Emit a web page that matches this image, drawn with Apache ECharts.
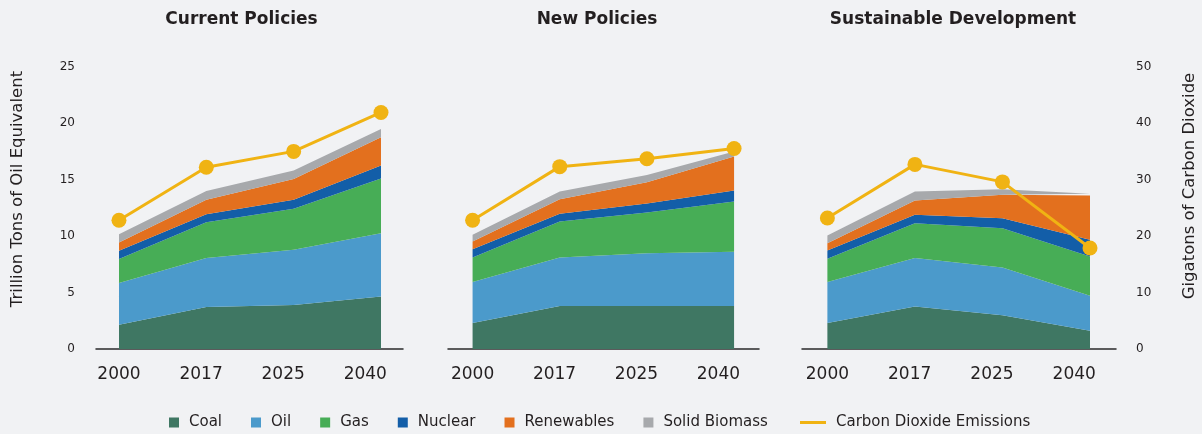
<!DOCTYPE html>
<html><head><meta charset="utf-8">
<script src="https://cdn.jsdelivr.net/npm/echarts@6/dist/echarts.min.js"></script>
<style>html,body{margin:0;padding:0;background:#f1f2f4}#c{width:1202px;height:434px}</style>
</head><body><div id="c"></div>
<script>
// ---- data ----
const years = ['2000', '2017', '2025', '2040'];
const scenarios = ['Current Policies', 'New Policies', 'Sustainable Development'];
const sources = ['Coal', 'Oil', 'Gas', 'Nuclear', 'Renewables', 'Solid Biomass'];
const co2Name = 'Carbon Dioxide Emissions';

// Current Policies (trillion tons of oil equivalent)
const coalCP = [2.15, 3.71, 3.89, 4.66];
const oilCP = [3.69, 4.34, 4.89, 5.60];
const gasCP = [2.12, 3.18, 3.63, 4.83];
const nuclearCP = [0.74, 0.71, 0.80, 1.15];
const renewCP = [0.73, 1.27, 1.85, 2.51];
const biomassCP = [0.74, 0.79, 0.74, 0.74];
const co2CP = [22.8, 32.2, 35.0, 41.9];

// New Policies
const coalNP = [2.30, 3.80, 3.80, 3.80];
const oilNP = [3.63, 4.31, 4.69, 4.81];
const gasNP = [2.18, 3.18, 3.60, 4.45];
const nuclearNP = [0.73, 0.68, 0.79, 0.97];
const renewNP = [0.68, 1.30, 1.89, 3.01];
const biomassNP = [0.59, 0.67, 0.65, 0.44];
const co2NP = [22.8, 32.3, 33.7, 35.5];

// Sustainable Development
const coalSD = [2.30, 3.77, 2.98, 1.62];
const oilSD = [3.63, 4.28, 4.24, 3.10];
const gasSD = [2.06, 3.09, 3.48, 3.48];
const nuclearSD = [0.74, 0.74, 0.89, 1.47];
const renewSD = [0.64, 1.27, 2.06, 3.92];
const biomassSD = [0.68, 0.79, 0.50, 0.15];
const co2SD = [23.2, 32.7, 29.6, 17.9];

const leftTicks = [0, 5, 10, 15, 20, 25];
const rightTicks = [0, 10, 20, 30, 40, 50];

// ---- presentation ----
const colors = ['#3f7763', '#4b9acb', '#47ad56', '#135ea8', '#e3701e', '#a7a9ac'];
const co2Color = '#f0b313';
const FONT = 'DejaVu Sans';
const TXT = '#231f20';

const energy = [
  [coalCP, oilCP, gasCP, nuclearCP, renewCP, biomassCP],
  [coalNP, oilNP, gasNP, nuclearNP, renewNP, biomassNP],
  [coalSD, oilSD, gasSD, nuclearSD, renewSD, biomassSD]
];
const co2 = [co2CP, co2NP, co2SD];

const layout = [
  { left: 96, width: 307, min: -0.263, max: 3.252, title: 241.5 },
  { left: 448, width: 311, min: -0.282, max: 3.286, title: 597 },
  { left: 802, width: 314, min: -0.29, max: 3.297, title: 953 }
];
const LABEL_STEP = 0.94;
const labelPos = years.map((_, i) => i * LABEL_STEP);

const grids = [], xAxes = [], yAxes = [], series = [], graphics = [];
layout.forEach((g, i) => {
  grids.push({ left: g.left, width: g.width, top: 66.7, bottom: 85, containLabel: false });
  xAxes.push({
    type: 'value', gridIndex: i, min: g.min, max: g.max,
    axisLine: { show: true, onZero: false, lineStyle: { color: '#2a2a2a', width: 1.5 } },
    axisTick: { show: false }, splitLine: { show: false },
    axisLabel: {
      customValues: labelPos, margin: 17, fontSize: 17, fontFamily: FONT, color: TXT,
      formatter: v => years[Math.round(v / LABEL_STEP)]
    }
  });
  yAxes.push({
    type: 'value', gridIndex: i, position: 'left', show: i === 0,
    min: leftTicks[0], max: leftTicks[leftTicks.length - 1], interval: leftTicks[1] - leftTicks[0],
    axisLine: { show: false }, axisTick: { show: false }, splitLine: { show: false },
    axisLabel: { margin: 21, fontSize: 12, fontFamily: FONT, color: TXT }
  });
  yAxes.push({
    type: 'value', gridIndex: i, position: 'right', show: i === 2,
    min: rightTicks[0], max: rightTicks[rightTicks.length - 1], interval: rightTicks[1] - rightTicks[0],
    axisLine: { show: false }, axisTick: { show: false }, splitLine: { show: false },
    axisLabel: { margin: 20, fontSize: 12, fontFamily: FONT, color: TXT }
  });
  sources.forEach((name, s) => {
    series.push({
      type: 'line', name, xAxisIndex: i, yAxisIndex: 2 * i, stack: 'energy' + i,
      symbol: 'none', color: colors[s],
      lineStyle: { width: 0 },
      areaStyle: { color: colors[s], opacity: 1 },
      // value first so that stacking happens on the y dimension
      encode: { x: 1, y: 0 },
      data: energy[i][s].map((v, k) => [v, k]),
      z: 2, silent: true
    });
  });
  series.push({
    type: 'line', name: co2Name, xAxisIndex: i, yAxisIndex: 2 * i + 1,
    symbol: 'circle', symbolSize: 15, color: co2Color,
    lineStyle: { width: 3, color: co2Color }, itemStyle: { color: co2Color },
    data: co2[i].map((v, k) => [k, v]),
    z: 5, silent: true
  });
  graphics.push({
    type: 'text', x: g.title, y: 19.5,
    style: { text: scenarios[i], font: 'bold 17px "' + FONT + '"', fill: TXT,
      textAlign: 'center', textVerticalAlign: 'middle', align: 'center', verticalAlign: 'middle' }
  });
});

graphics.push({
  type: 'text', x: 17.5, y: 189, rotation: Math.PI / 2,
  style: { text: 'Trillion Tons of Oil Equivalent', font: '16.5px "' + FONT + '"', fill: TXT,
    textAlign: 'center', textVerticalAlign: 'middle', align: 'center', verticalAlign: 'middle' }
});
graphics.push({
  type: 'text', x: 1190, y: 186, rotation: Math.PI / 2,
  style: { text: 'Gigatons of Carbon Dioxide', font: '16.5px "' + FONT + '"', fill: TXT,
    textAlign: 'center', textVerticalAlign: 'middle', align: 'center', verticalAlign: 'middle' }
});

const chart = echarts.init(document.getElementById('c'), null, { renderer: 'canvas' });
chart.setOption({
  backgroundColor: '#f1f2f4',
  animation: false,
  grid: grids, xAxis: xAxes, yAxis: yAxes, series,
  legend: [
    { data: sources, left: 169, top: 415, padding: 0, icon: 'rect', itemWidth: 10, itemHeight: 10, itemGap: 29,
      textStyle: { fontSize: 15, fontFamily: FONT, color: TXT, padding: [0, 0, 0, 5] }, selectedMode: false },
    { data: [co2Name], left: 800, top: 415, padding: 0, icon: 'rect', itemWidth: 26, itemHeight: 3,
      textStyle: { fontSize: 15, fontFamily: FONT, color: TXT, padding: [0, 0, 0, 5] }, selectedMode: false }
  ],
  graphic: graphics
});
</script>
</body></html>
